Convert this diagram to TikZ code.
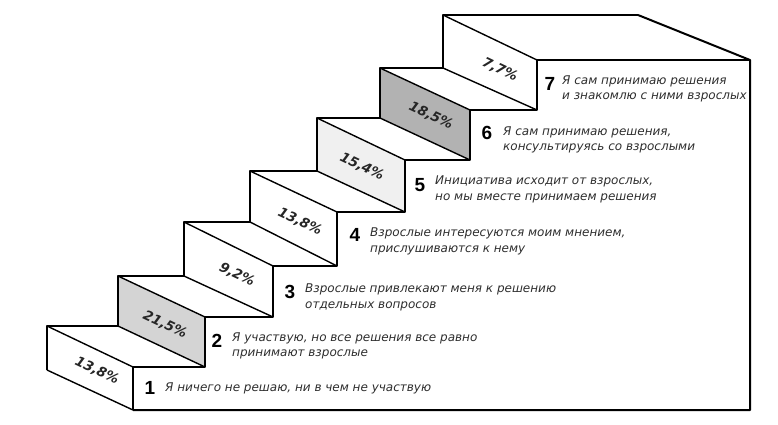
\documentclass[tikz,border=0pt]{standalone}
\usepackage{fontspec}
\setmainfont{Liberation Sans}
\newfontfamily\descfont{DejaVu Sans}
\newfontfamily\pctfont{DejaVu Sans}
\begin{document}
\begin{tikzpicture}[x=1pt,y=-1pt,
  edge/.style={line width=1.4pt,line join=round},
  outer/.style={line width=2pt,line join=round},
  pct/.style={font=\pctfont\bfseries\itshape\fontsize{13.5}{14}\selectfont,rotate=-25.5,text=black!85,inner sep=0pt},
  num/.style={font=\bfseries\fontsize{19}{20}\selectfont,inner sep=0pt},
  desc/.style={font=\descfont\itshape\fontsize{12}{15.5}\selectfont,align=left,anchor=west,inner sep=0pt,text=black!82}]
\useasboundingbox (0,0) rectangle (778,424);
% front (facade) profile
\coordinate (f1t) at (133,367); \coordinate (f1b) at (133,410);
\coordinate (f2t) at (205,317); \coordinate (f2b) at (205,367);
\coordinate (f3t) at (273,266); \coordinate (f3b) at (273,317);
\coordinate (f4t) at (337,212); \coordinate (f4b) at (337,266);
\coordinate (f5t) at (405,160); \coordinate (f5b) at (405,212);
\coordinate (f6t) at (470,110); \coordinate (f6b) at (470,160);
\coordinate (f7t) at (537,60);  \coordinate (f7b) at (537,110);
\coordinate (fr) at (750,60);   \coordinate (frb) at (750,410);
% back profile
\coordinate (b1t) at (47,326);  \coordinate (b1b) at (47,370);
\coordinate (b2t) at (118,276); \coordinate (b2b) at (118,326);
\coordinate (b3t) at (184,222); \coordinate (b3b) at (184,276);
\coordinate (b4t) at (250,171); \coordinate (b4b) at (250,222);
\coordinate (b5t) at (317,118); \coordinate (b5b) at (317,171);
\coordinate (b6t) at (380,68);  \coordinate (b6b) at (380,118);
\coordinate (b7t) at (443,15);  \coordinate (b7b) at (443,68);
\coordinate (br) at (638,15);
% shaded risers
\fill[black!17] (b2t)--(f2t)--(f2b)--(b2b)--cycle;
\fill[black!6]  (b5t)--(f5t)--(f5b)--(b5b)--cycle;
\fill[black!30] (b6t)--(f6t)--(f6b)--(b6b)--cycle;
% outline
\draw[edge] (b1b)--(b1t)--(b2b)--(b2t)--(b3b)--(b3t)--(b4b)--(b4t)--(b5b)--(b5t)--(b6b)--(b6t)--(b7b)--(b7t)--(br);
\draw[outer] (br)--(fr)--(frb)--(f1b);
\draw[edge] (f1b)--(b1b);
\draw[edge] (f1b)--(f1t)--(f2b)--(f2t)--(f3b)--(f3t)--(f4b)--(f4t)--(f5b)--(f5t)--(f6b)--(f6t)--(f7b)--(f7t)--(fr);
\foreach \i in {1,...,7}{
  \draw[edge] (b\i t)--(f\i t);
}
\foreach \i in {2,...,7}{
  \draw[edge] (b\i b)--(f\i b);
}
% percentages
\node[pct] (p1) at (97,371) {13,8\%};
\node[pct] (p2) at (165,325) {21,5\%};
\node[pct] (p3) at (237,275) {9,2\%};
\node[pct] (p4) at (300,222) {13,8\%};
\node[pct] (p5) at (362,167) {15,4\%};
\node[pct] (p6) at (431,116) {18,5\%};
\node[pct] (p7) at (500,70) {7,7\%};
% step numbers
\node[num] (n1) at (150,388) {1};
\node[num] (n2) at (217,341) {2};
\node[num] (n3) at (290,292) {3};
\node[num] (n4) at (355,235) {4};
\node[num] (n5) at (420,185) {5};
\node[num] (n6) at (487,133) {6};
\node[num] (n7) at (550,84) {7};
% descriptions
\node[desc] (d1) at (165,388) {Я ничего не решаю, ни в чем не участвую};
\node[desc] (d2) at (232,346) {Я участвую, но все решения все равно\\принимают взрослые};
\node[desc] (d3) at (305,297.5) {Взрослые привлекают меня к решению\\отдельных вопросов};
\node[desc] (d4) at (370,241.5) {Взрослые интересуются моим мнением,\\прислушиваются к нему};
\node[desc] (d5) at (435,189.5) {Инициатива исходит от взрослых,\\но мы вместе принимаем решения};
\node[desc] (d6) at (503,140) {Я сам принимаю решения,\\консультируясь со взрослыми};
\node[desc] (d7) at (562,89) {Я сам принимаю решения\\и знакомлю с ними взрослых};
\end{tikzpicture}
\end{document}
